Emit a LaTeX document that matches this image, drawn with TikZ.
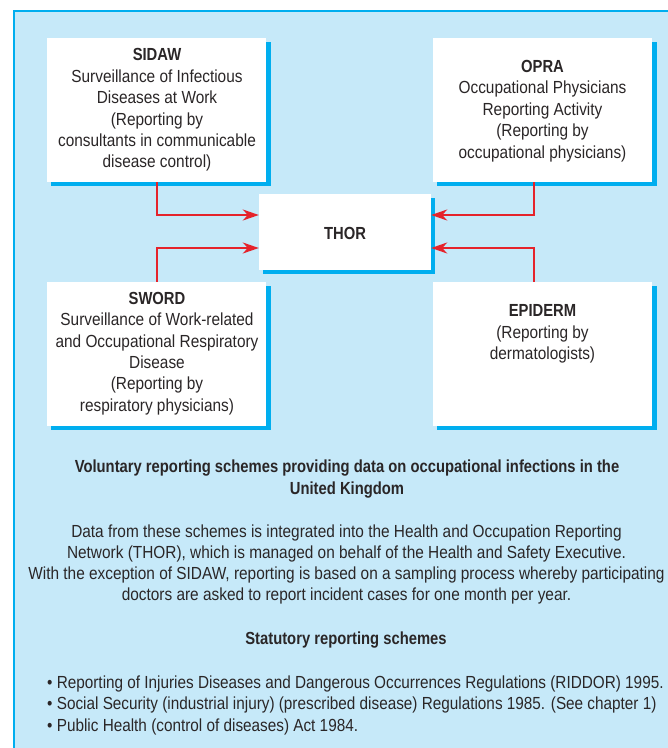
\documentclass[tikz,border=0pt]{standalone}
\usepackage{fontspec}
\setmainfont[FakeStretch=0.88,BoldFeatures={FakeStretch=0.845}]{Liberation Sans}
\newfontfamily\listfont[FakeStretch=0.875]{Liberation Sans}
\usetikzlibrary{arrows.meta}
\definecolor{bgblue}{HTML}{C6E9F9}
\definecolor{cyanline}{HTML}{00AEEF}
\definecolor{arrred}{HTML}{E5232B}
\definecolor{txt}{HTML}{2A2627}
\tikzset{
  box/.style={draw=none, fill=white, minimum width=219pt, minimum height=144pt, inner sep=0pt, rectangle},
  thorbox/.style={draw=none, fill=white, minimum width=172pt, minimum height=76pt, inner sep=0pt, rectangle},
  shadowbox/.style={fill=cyanline},
  boxtext/.style={align=center, text=txt, inner sep=0pt, font=\fontsize{17.5}{21.4}\selectfont},
  bodytext/.style={align=center, text=txt, inner sep=0pt, font=\fontsize{17.5}{21.3}\selectfont},
  arr/.style={draw=arrred, line width=2pt, -{Stealth[length=16pt,width=11pt,inset=5pt]}},
}
\begin{document}
\begin{tikzpicture}[x=1pt,y=-1pt]
\useasboundingbox (0,0) rectangle (668,748);
\fill[white] (0,0) rectangle (668,748);
\fill[bgblue] (14,11) rectangle (680,760);
\draw[cyanline, line width=1.5pt] (14,760) -- (14,11) -- (680,11);
% shadows
\fill[shadowbox] (51,41.5) rectangle (270.5,185.5);
\fill[shadowbox] (437,41.5) rectangle (656.5,185.5);
\fill[shadowbox] (263,197.5) rectangle (435,273.5);
\fill[shadowbox] (51,285.5) rectangle (270.5,429.5);
\fill[shadowbox] (437,285.5) rectangle (656.5,429.5);
% boxes
\node[box] (sidaw) at (156.5,110) {};
\node[box] (opra) at (542.5,110) {};
\node[thorbox] (thor) at (345,232) {};
\node[box] (sword) at (156.5,354) {};
\node[box] (epiderm) at (542.5,354) {};
% box texts
\node[boxtext] (sidawt) at (157,110) {\textbf{SIDAW}\\Surveillance of Infectious\\Diseases at Work\\(Reporting by\\consultants in communicable\\disease control)};
\node[boxtext] (oprat) at (542.5,111) {\textbf{OPRA}\\Occupational Physicians\\Reporting Activity\\(Reporting by\\occupational physicians)};
\node[boxtext] (thort) at (345,233) {\textbf{THOR}};
\node[boxtext] (swordt) at (157,353.5) {\textbf{SWORD}\\Surveillance of Work-related\\and Occupational Respiratory\\Disease\\(Reporting by\\respiratory physicians)};
\node[boxtext] (epidermt) at (542.5,334) {\textbf{EPIDERM}\\(Reporting by\\dermatologists)};
% connectors
\draw[arr] (sidaw.south) |- ([yshift=17pt]thor.west);
\draw[arr] (sword.north) |- ([yshift=-16pt]thor.west);
\draw[arr] ([xshift=-8.5pt]opra.south) |- ([yshift=17pt]thor.east);
\draw[arr] ([xshift=-8.5pt]epiderm.north) |- ([yshift=-16pt]thor.east);
% lower texts
\node[bodytext] (title1) at (347,479) {\textbf{Voluntary reporting schemes providing data on occupational infections in the}\\\textbf{United Kingdom}};
\node[bodytext] (para) at (346.5,564.5) {Data from these schemes is integrated into the Health and Occupation Reporting\\Network (THOR), which is managed on behalf of the Health and Safety Executive.\\With the exception of SIDAW, reporting is based on a sampling process whereby participating\\doctors are asked to report incident cases for one month per year.};
\node[bodytext] (title2) at (346,640) {\textbf{Statutory reporting schemes}};
\node[bodytext, align=left, anchor=west, font=\fontsize{17.5}{21.5}\listfont] (list) at (47,705) {\textbullet\ Reporting of Injuries Diseases and Dangerous Occurrences Regulations (RIDDOR) 1995.\\\textbullet\ Social Security (industrial injury) (prescribed disease) Regulations 1985. (See chapter 1)\\\textbullet\ Public Health (control of diseases) Act 1984.};
\end{tikzpicture}
\end{document}
